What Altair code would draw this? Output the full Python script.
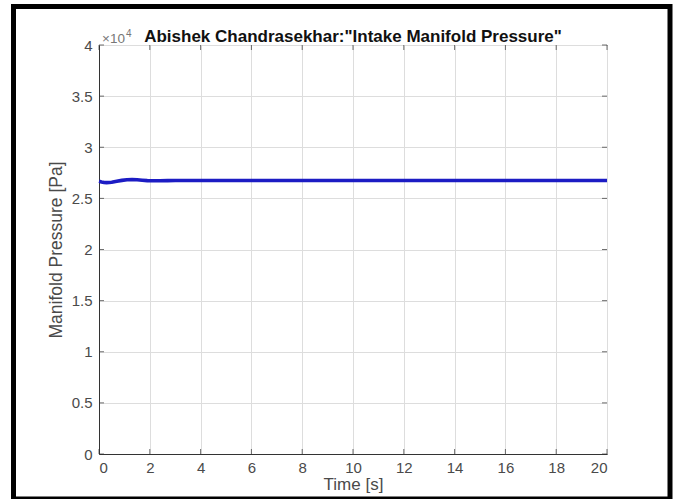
import altair as alt
import pandas as pd

# Simulated intake manifold pressure response
time_s = [0, 0.1, 0.2, 0.3, 0.4, 0.5, 0.7, 0.9, 1.1, 1.3, 1.5, 1.7, 1.9,
          2.1, 2.4, 2.7, 3.0, 3.5, 4, 5, 6, 8, 10, 12, 14, 16, 18, 20]
pressure_pa = [26670, 26610, 26560, 26540, 26550, 26580, 26670, 26760, 26820,
               26840, 26820, 26780, 26740, 26720, 26720, 26740, 26750, 26750,
               26750, 26750, 26750, 26750, 26750, 26750, 26750, 26750, 26750, 26750]

x_ticks = [0, 2, 4, 6, 8, 10, 12, 14, 16, 18, 20]
y_ticks = [0, 5000, 10000, 15000, 20000, 25000, 30000, 35000, 40000]

W, H = 508, 409
FONT = "Liberation Sans"
GRAY = "#4a4a4a"

df = pd.DataFrame({"t": time_s, "p": pressure_pa})

x_scale = alt.Scale(domain=[0, 20], nice=False, zero=False)
y_scale = alt.Scale(domain=[0, 40000], nice=False)

base = alt.Chart(df)

line = base.mark_line(color="#1c1cc4", strokeWidth=3.6).encode(
    x=alt.X("t:Q", scale=x_scale,
            axis=alt.Axis(values=x_ticks, title="Time [s]", grid=True,
                          labelFontSize=15, titleFontSize=17,
                          labelColor=GRAY, titleColor=GRAY, titleFontWeight="normal",
                          labelFont=FONT, titleFont=FONT, domainColor="#333333",
                          tickColor="#333333", tickSize=0, labelPadding=6,
                          titlePadding=1, gridColor="#dddddd")),
    y=alt.Y("p:Q", scale=y_scale,
            axis=alt.Axis(values=y_ticks, title="Manifold Pressure [Pa]", grid=True,
                          labelExpr="datum.value / 10000",
                          labelFontSize=15, titleFontSize=17.5,
                          labelColor=GRAY, titleColor=GRAY, titleFontWeight="normal",
                          labelFont=FONT, titleFont=FONT, domainColor="#333333",
                          tickColor="#333333", tickSize=0, labelPadding=7,
                          titlePadding=6, gridColor="#dddddd")),
)

# Inward tick marks on all four sides of the axes box
xt = alt.Chart(pd.DataFrame({"t": x_ticks})).mark_tick(
    color="#333333", size=5, thickness=1, orient="vertical").encode(
    x=alt.X("t:Q", scale=x_scale), y=alt.value(H - 2.5))
xt_top = alt.Chart(pd.DataFrame({"t": x_ticks})).mark_tick(
    color="#333333", size=5, thickness=1, orient="vertical").encode(
    x=alt.X("t:Q", scale=x_scale), y=alt.value(2.5))
yt = alt.Chart(pd.DataFrame({"p": y_ticks})).mark_tick(
    color="#333333", size=5, thickness=1, orient="horizontal").encode(
    y=alt.Y("p:Q", scale=y_scale), x=alt.value(2.5))
yt_right = alt.Chart(pd.DataFrame({"p": y_ticks})).mark_tick(
    color="#333333", size=5, thickness=1, orient="horizontal").encode(
    y=alt.Y("p:Q", scale=y_scale), x=alt.value(W - 2.5))

title = alt.Chart(pd.DataFrame({"s": ['Abishek Chandrasekhar:"Intake Manifold Pressure"']})).mark_text(
    font=FONT, fontSize=17, fontWeight="bold", color="#111111",
    align="center", baseline="alphabetic").encode(
    text="s:N", x=alt.value(W / 2), y=alt.value(-3))

exp_base = alt.Chart(pd.DataFrame({"s": ["\u00d710"]})).mark_text(
    font=FONT, fontSize=13.5, color="#777777", align="left", baseline="alphabetic").encode(
    text="s:N", x=alt.value(3), y=alt.value(-2))
exp_sup = alt.Chart(pd.DataFrame({"s": ["4"]})).mark_text(
    font=FONT, fontSize=10, color="#777777", align="left", baseline="alphabetic").encode(
    text="s:N", x=alt.value(27), y=alt.value(-8))

# Figure frame around the whole window
frame = alt.Chart(pd.DataFrame({"a": [0]})).mark_rect(
    fill=None, stroke="black", strokeWidth=5).encode(
    x=alt.value(13.5 - 99), x2=alt.value(670 - 99),
    y=alt.value(6.5 - 45), y2=alt.value(499 - 45))

chart = alt.layer(line, xt, xt_top, yt, yt_right, title, exp_base, exp_sup, frame).properties(
    width=W, height=H,
    autosize=alt.AutoSizeParams(type="none"),
    padding={"left": 99, "top": 45, "right": 676 - 99 - W, "bottom": 499 - 45 - H},
    background="white",
).configure_view(stroke="#333333", strokeWidth=1)

chart.save("out.html", embed_options={"renderer": "svg", "actions": False})
